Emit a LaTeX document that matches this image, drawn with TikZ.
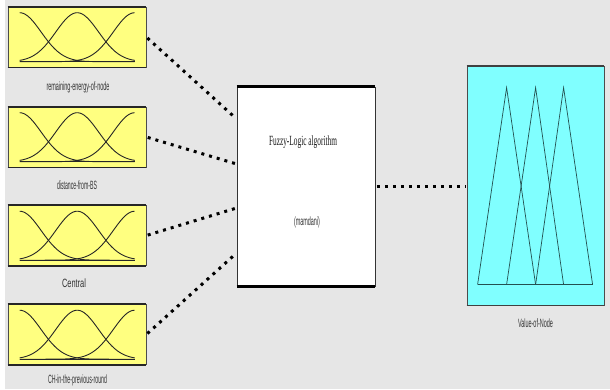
\documentclass[tikz,border=0pt]{standalone}
\usepackage{fontspec}
\setmainfont{Liberation Serif}
\newfontfamily\labfont{Liberation Sans}
\usetikzlibrary{calc}
\definecolor{bg}{HTML}{E6E6E6}
\definecolor{inyel}{HTML}{FFFF80}
\definecolor{outcy}{HTML}{80FFFF}
\definecolor{tri}{HTML}{245050}
\newcommand\fitw[2]{\resizebox{#1}{\height}{#2}}
\begin{document}
\begin{tikzpicture}[x=1pt,y=-1pt,
  inbox/.style={draw=gray!60!black, line width=0.6pt, fill=inyel, minimum width=138pt, minimum height=60pt, inner sep=0pt},
  lab/.style={font=\labfont\fontsize{12}{13}\selectfont, text=black!80, inner sep=0pt},
  conn/.style={line width=3pt, dash pattern=on 3pt off 5pt, black, shorten <=1.5pt, shorten >=1pt},
  mf/.style={line width=0.9pt, black!85},
  rim/.style={line width=1.6pt, black!85},
  trl/.style={line width=0.7pt, tri}]
\useasboundingbox (0,0) rectangle (610,389);
\fill[white] (0,0) rectangle (610,389);
\fill[bg] (5,0) rectangle (610,389);

% input boxes
\node[inbox] (in1) at (77,37) {};
\node[inbox] (in2) at (77,137) {};
\node[inbox] (in3) at (77,235.5) {};
\node[inbox] (in4) at (77,334.5) {};
\foreach \n in {in1,in2,in3,in4}{
  \draw[rim] (\n.north west) -- (\n.north east);
  \draw[rim] (\n.south west) -- (\n.south east);
  \begin{scope}[shift={(\n.north west)}]
    \draw[mf] plot[domain=12:127,samples=60] (\x,{55-49*exp(-0.5*pow((\x-12)/21.4,2))});
    \draw[mf] plot[domain=12:127,samples=60] (\x,{55-49*exp(-0.5*pow((\x-69.5)/21.4,2))});
    \draw[mf] plot[domain=12:127,samples=60] (\x,{55-49*exp(-0.5*pow((\x-127)/21.4,2))});
    \draw[line width=1.2pt, black!85] (12,55) -- (127,55);
  \end{scope}
}
\node[lab] (l1) at (78,87) {\fitw{63pt}{remaining-energy-of-node}};
\node[lab] (l2) at (77,185) {\fitw{40pt}{distance-from-BS}};
\node[lab] (l3) at (74,283) {\fitw{24pt}{Central}};
\node[lab] (l4) at (77.5,380) {\fitw{59pt}{CH-in-the-previous-round}};

% fuzzy logic box
\node[draw=black!80, line width=0.8pt, fill=white, minimum width=138pt, minimum height=199pt, inner sep=0pt] (fl) at (306,186.5) {};
\draw[line width=3pt, black] (fl.north west) -- (fl.north east);
\draw[line width=3pt, black] (fl.south west) -- (fl.south east);
\node[font=\fontsize{14}{16}\selectfont, inner sep=0pt, text=black!90] (flt) at (303,142) {\fitw{68pt}{Fuzzy-Logic algorithm}};
\node[lab] (mam) at (307,222) {\fitw{26pt}{(mamdani)}};

% output box
\node[draw=gray!60!black, line width=0.8pt, fill=outcy, minimum width=137pt, minimum height=239pt, inner sep=0pt] (out) at (535.5,185.5) {};
\draw[line width=1.8pt, black!75] (out.north west) -- (out.north east);
\draw[line width=1.8pt, black!75] (out.south west) -- (out.south east);
\begin{scope}[shift={(out.north west)}]
  \draw[trl] (11,219) -- (40,22) -- (69,219);
  \draw[trl] (40,219) -- (69,22) -- (97,219);
  \draw[trl] (69,219) -- (97,22) -- (126,219);
  \draw[line width=1.2pt, tri] (11,219) -- (126,219);
\end{scope}
\node[lab] (lo) at (535.5,323) {\fitw{35pt}{Value-of-Node}};

% connectors
\draw[conn] (in1.east) -- ([yshift=67.5pt]fl.west);
\draw[conn] (in2.east) -- ([yshift=22.5pt]fl.west);
\draw[conn] (in3.east) -- ([yshift=-21.5pt]fl.west);
\draw[conn] (in4.east) -- ([yshift=-66.5pt]fl.west);
\draw[conn] (fl.east) -- (fl.east -| out.west);
\end{tikzpicture}
\end{document}
